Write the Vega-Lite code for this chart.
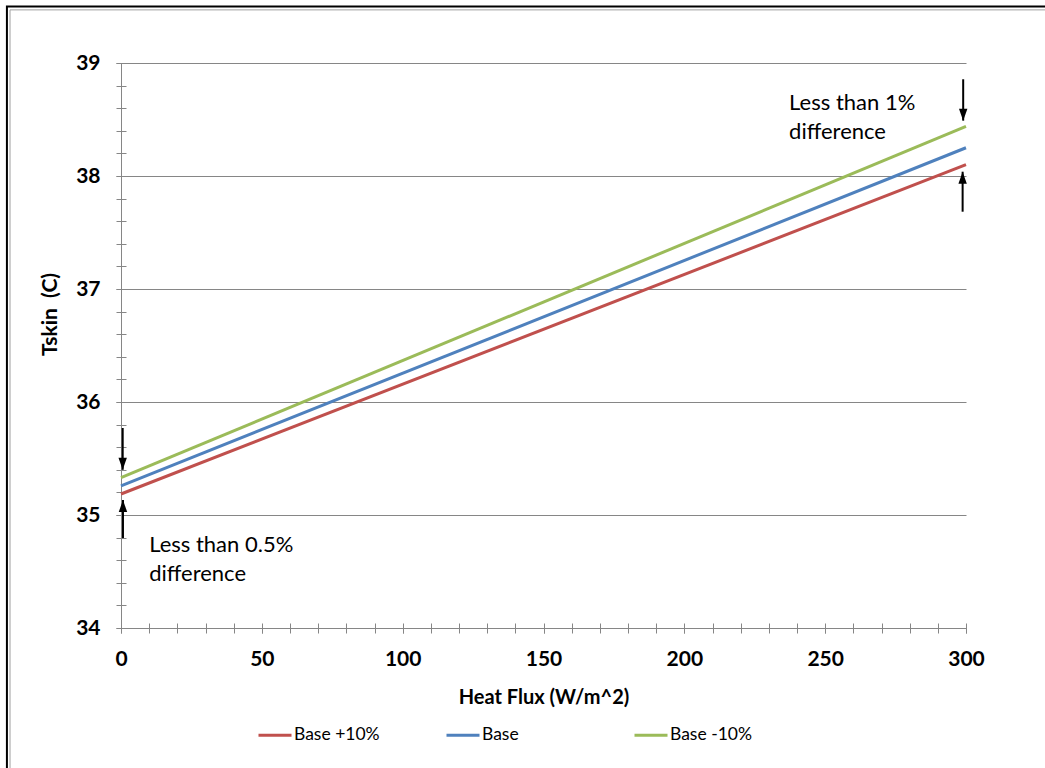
{
  "$schema": "https://vega.github.io/schema/vega-lite/v6.json",
  "width": 845,
  "height": 565,
  "autosize": {"type": "none"},
  "padding": {"left": 121, "top": 63, "right": 79, "bottom": 140},
  "background": "white",
  "config": {
    "view": {"stroke": null},
    "font": "Lato"
  },
  "datasets": {
    "lines": [
      {"series": "Base +10%", "flux": 0, "tskin": 35.186},
      {"series": "Base +10%", "flux": 300, "tskin": 38.1},
      {"series": "Base", "flux": 0, "tskin": 35.257},
      {"series": "Base", "flux": 300, "tskin": 38.25},
      {"series": "Base -10%", "flux": 0, "tskin": 35.33},
      {"series": "Base -10%", "flux": 300, "tskin": 38.44}
    ],
    "arrows": [
      {"x": 0.6, "from": 35.77, "tip": 35.40, "dir": "down"},
      {"x": 0.7, "from": 34.796, "tip": 35.133, "dir": "up"},
      {"x": 299.0, "from": 38.856, "tip": 38.49, "dir": "down"},
      {"x": 298.8, "from": 37.684, "tip": 38.038, "dir": "up"}
    ],
    "notes": [
      {"x": 10, "y": 34.825, "text": "Less than 0.5%\ndifference"},
      {"x": 237.2, "y": 38.735, "text": "Less than 1%\ndifference"}
    ],
    "frame": [
      {"x": -40.5, "x2": 345, "y": 39.5, "y2": 32, "c": "dark"},
      {"x": -39.4, "x2": 345, "y": 39.47, "y2": 32, "c": "light"}
    ]
  },
  "resolve": {"axis": {"x": "independent", "y": "independent"}},
  "layer": [
    {
      "data": {"name": "lines"},
      "mark": {"type": "line", "strokeWidth": 3, "clip": false},
      "encoding": {
        "x": {
          "field": "flux", "type": "quantitative",
          "scale": {"domain": [0, 300], "nice": false, "zero": false},
          "axis": {
            "orient": "bottom",
            "values": [0, 50, 100, 150, 200, 250, 300],
            "title": "Heat Flux (W/m^2)",
            "grid": false,
            "labelFlush": false,
            "domainColor": "#868686",
            "tickColor": "#868686",
            "tickSize": 5,
            "labelFont": "Lato", "labelFontWeight": "bold", "labelFontSize": 21, "labelColor": "black",
            "labelPadding": 15,
            "titleFont": "Lato", "titleFontWeight": "bold", "titleFontSize": 20, "titleColor": "black",
            "titleBaseline": "middle",
            "titleY": 69
          }
        },
        "y": {
          "field": "tskin", "type": "quantitative",
          "scale": {"domain": [34, 39], "nice": false, "zero": false},
          "axis": {
            "orient": "left",
            "values": [34, 35, 36, 37, 38, 39],
            "title": "Tskin\u00a0\u00a0(C)",
            "grid": true,
            "labelFlush": false,
            "gridColor": "#868686",
            "gridWidth": 1,
            "domainColor": "#868686",
            "tickColor": "#868686",
            "tickSize": 5,
            "labelFont": "Lato", "labelFontWeight": "bold", "labelFontSize": 21, "labelColor": "black",
            "labelPadding": 16,
            "titleFont": "Lato", "titleFontWeight": "bold", "titleFontSize": 21, "titleColor": "black",
            "titleAngle": -90,
            "titleAlign": "center",
            "titleBaseline": "middle",
            "titleX": -71,
            "titleY": 251
          }
        },
        "color": {
          "field": "series", "type": "nominal",
          "scale": {"domain": ["Base +10%", "Base", "Base -10%"], "range": ["#C0504D", "#4F81BD", "#9BBB59"]},
          "legend": {
            "title": null,
            "orient": "none",
            "legendX": 136,
            "legendY": 654,
            "direction": "horizontal",
            "columns": 3,
            "gridAlign": "all",
            "columnPadding": 60,
            "symbolType": "stroke",
            "symbolSize": 1089,
            "symbolStrokeWidth": 3,
            "labelFont": "Lato", "labelFontSize": 17.5, "labelColor": "black",
            "labelOffset": 1
          }
        }
      }
    },
    {
      "data": {"name": "arrows"},
      "mark": {"type": "rule", "color": "black", "strokeWidth": 2, "clip": false},
      "encoding": {
        "x": {
          "field": "x", "type": "quantitative",
          "axis": {
            "orient": "bottom",
            "offset": -5,
            "values": [0,10,20,30,40,50,60,70,80,90,100,110,120,130,140,150,160,170,180,190,200,210,220,230,240,250,260,270,280,290,300],
            "tickSize": 10,
            "tickColor": "#868686",
            "labels": false,
            "domain": false,
            "grid": false,
            "title": null
          }
        },
        "y": {
          "field": "from", "type": "quantitative",
          "axis": {
            "orient": "left",
            "offset": -5,
            "values": [34,34.2,34.4,34.6,34.8,35,35.2,35.4,35.6,35.8,36,36.2,36.4,36.6,36.8,37,37.2,37.4,37.6,37.8,38,38.2,38.4,38.6,38.8,39],
            "tickSize": 10,
            "tickColor": "#868686",
            "labels": false,
            "domain": false,
            "grid": false,
            "title": null
          }
        },
        "y2": {"field": "tip"}
      }
    },
    {
      "data": {"name": "arrows"},
      "mark": {"type": "point", "filled": true, "color": "black", "opacity": 1, "size": 576, "strokeWidth": 0, "clip": false},
      "encoding": {
        "x": {"field": "x", "type": "quantitative", "axis": null},
        "y": {"field": "tip", "type": "quantitative", "axis": null},
        "shape": {
          "field": "dir", "type": "nominal",
          "scale": {"domain": ["down", "up"], "range": ["M-0.35,-1L0.35,-1L0,0Z", "M-0.35,1L0.35,1L0,0Z"]},
          "legend": null
        }
      }
    },
    {
      "data": {"name": "notes"},
      "mark": {"type": "text", "align": "left", "baseline": "top", "lineBreak": "\n", "lineHeight": 29, "font": "Lato", "fontSize": 22, "color": "black", "clip": false},
      "encoding": {
        "x": {"field": "x", "type": "quantitative", "axis": null},
        "y": {"field": "y", "type": "quantitative", "axis": null},
        "text": {"field": "text"}
      }
    },
    {
      "data": {"name": "frame"},
      "transform": [{"filter": "datum.c == 'dark'"}],
      "mark": {"type": "rect", "clip": false, "fill": null, "fillOpacity": 0, "stroke": "#000000", "strokeWidth": 2},
      "encoding": {
        "x": {"field": "x", "type": "quantitative", "axis": null},
        "x2": {"field": "x2"},
        "y": {"field": "y", "type": "quantitative", "axis": null},
        "y2": {"field": "y2"}
      }
    },
    {
      "data": {"name": "frame"},
      "transform": [{"filter": "datum.c == 'light'"}],
      "mark": {"type": "rect", "clip": false, "fill": null, "fillOpacity": 0, "stroke": "#A0A0A0", "strokeWidth": 1},
      "encoding": {
        "x": {"field": "x", "type": "quantitative", "axis": null},
        "x2": {"field": "x2"},
        "y": {"field": "y", "type": "quantitative", "axis": null},
        "y2": {"field": "y2"}
      }
    }
  ]
}
